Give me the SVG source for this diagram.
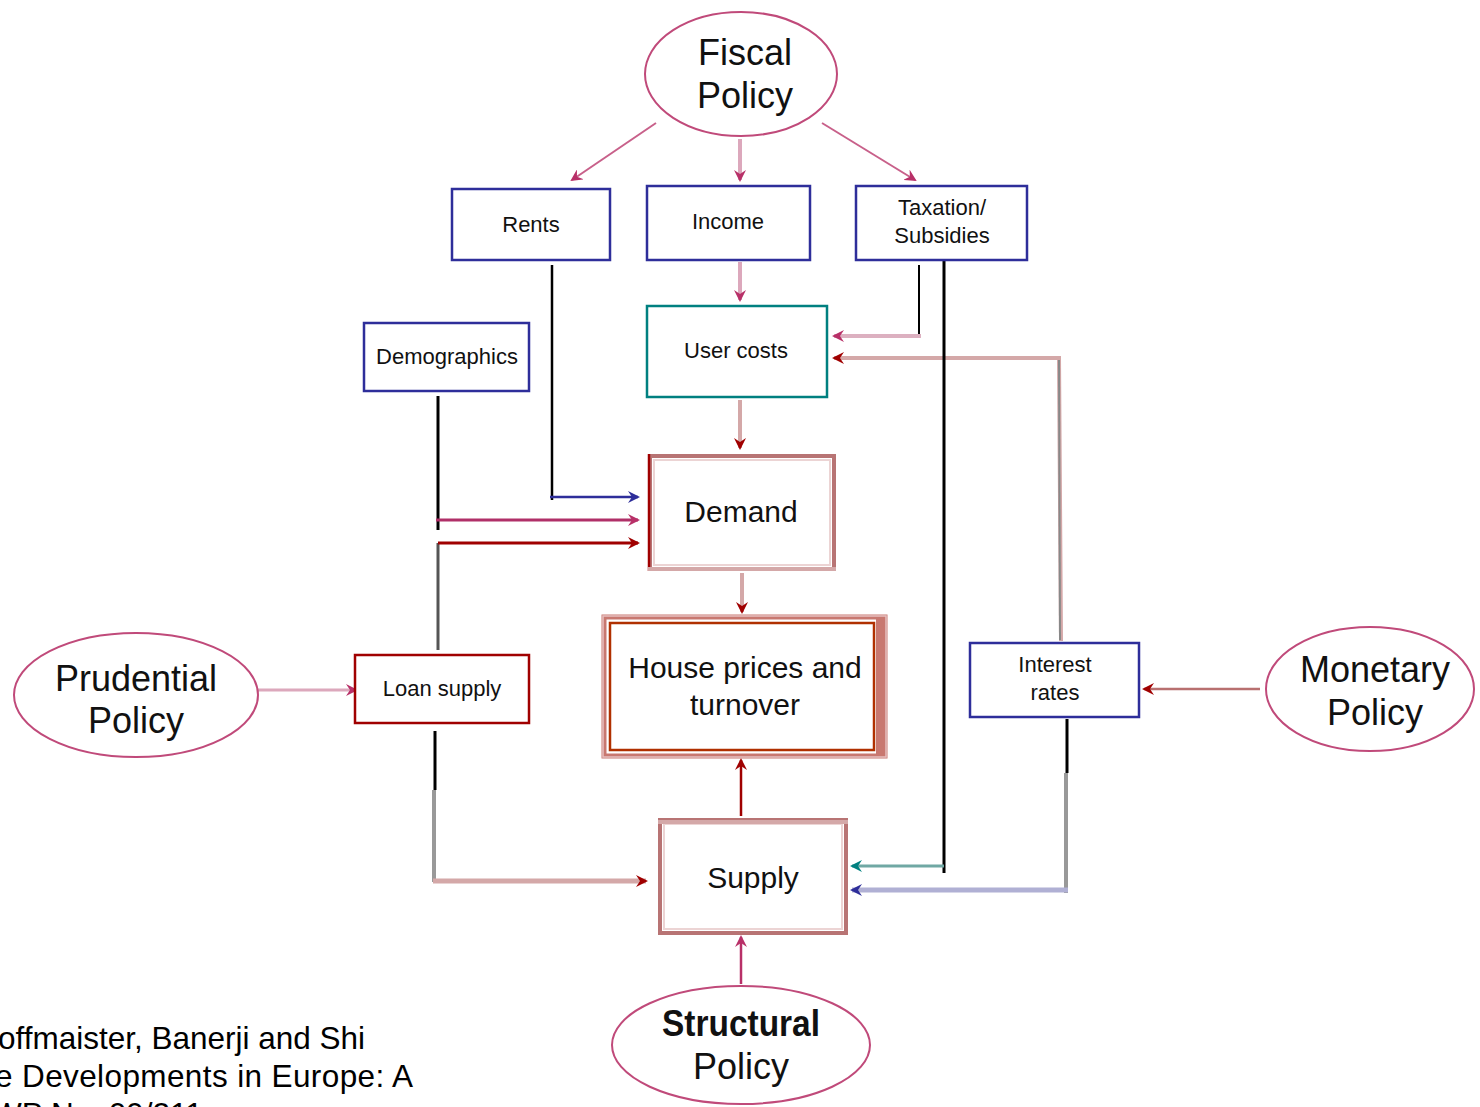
<svg xmlns="http://www.w3.org/2000/svg" width="1480" height="1107" viewBox="0 0 1480 1107">
<style>
  .ell { fill: #fff; stroke: #c04a7a; stroke-width: 2; }
  .big { font-family: "Liberation Sans", Arial, sans-serif; font-size: 36px; fill: #111; text-anchor: middle; }
  .mid { font-family: "Liberation Sans", Arial, sans-serif; font-size: 30px; fill: #111; text-anchor: middle; }
  .sm { font-family: "Liberation Sans", Arial, sans-serif; font-size: 22px; fill: #111; text-anchor: middle; }
  .cite { font-family: "Liberation Sans", Arial, sans-serif; font-size: 31.5px; fill: #000; }
  .blue { fill: #fff; stroke: #2e2e9a; stroke-width: 2.5; }
  .conn { fill: none; }
</style>
<defs>
  <marker id="aMag" markerWidth="12" markerHeight="12" refX="10" refY="6" orient="auto" markerUnits="userSpaceOnUse">
    <path d="M0,0 L12,6 L0,12 L4,6 z" fill="#b83068"/>
  </marker>
  <marker id="aRed" markerWidth="12" markerHeight="12" refX="10" refY="6" orient="auto" markerUnits="userSpaceOnUse">
    <path d="M0,0 L12,6 L0,12 L4,6 z" fill="#a00000"/>
  </marker>
  <marker id="aBlue" markerWidth="12" markerHeight="12" refX="10" refY="6" orient="auto" markerUnits="userSpaceOnUse">
    <path d="M0,0 L12,6 L0,12 L4,6 z" fill="#2e2e9a"/>
  </marker>
  <marker id="aTeal" markerWidth="12" markerHeight="12" refX="10" refY="6" orient="auto" markerUnits="userSpaceOnUse">
    <path d="M0,0 L12,6 L0,12 L4,6 z" fill="#008080"/>
  </marker>
</defs>

<g id="connectors" class="conn">
  <line x1="656" y1="123" x2="572" y2="180" stroke="#c8608a" stroke-width="2" marker-end="url(#aMag)"/>
  <line x1="740" y1="139" x2="740" y2="180" stroke="#dca8bc" stroke-width="4" marker-end="url(#aMag)"/>
  <line x1="822" y1="123" x2="915" y2="180" stroke="#c8608a" stroke-width="2" marker-end="url(#aMag)"/>
  <line x1="740" y1="262" x2="740" y2="300" stroke="#dca8bc" stroke-width="4" marker-end="url(#aMag)"/>
  <line x1="919" y1="265" x2="919" y2="337" stroke="#000" stroke-width="2"/>
  <polyline points="921,336 834,336" stroke="#dcb0c0" stroke-width="4" marker-end="url(#aMag)"/>
  <polyline points="1061,641 1059,358 834,358" stroke="#d4a8a8" stroke-width="4" marker-end="url(#aRed)"/>
  <line x1="1059" y1="360" x2="1060" y2="640" stroke="#888" stroke-width="2"/>
  <line x1="944" y1="260" x2="944" y2="873" stroke="#000" stroke-width="3"/>
  <polyline points="944,866 852,866" stroke="#70a8a4" stroke-width="3" marker-end="url(#aTeal)"/>
  <line x1="552" y1="265" x2="552" y2="500" stroke="#000" stroke-width="2.5"/>
  <polyline points="550,497 638,497" stroke="#2e2e9a" stroke-width="2.5" marker-end="url(#aBlue)"/>
  <line x1="438" y1="396" x2="438" y2="530" stroke="#000" stroke-width="3"/>
  <polyline points="436,520 638,520" stroke="#b03068" stroke-width="3" marker-end="url(#aMag)"/>
  <line x1="438" y1="543" x2="438" y2="650" stroke="#555" stroke-width="3"/>
  <polyline points="438,543 638,543" stroke="#a00000" stroke-width="3" marker-end="url(#aRed)"/>
  <line x1="740" y1="400" x2="740" y2="448" stroke="#d4a8a8" stroke-width="4" marker-end="url(#aRed)"/>
  <line x1="742" y1="573" x2="742" y2="612" stroke="#d4a8a8" stroke-width="4" marker-end="url(#aRed)"/>
  <line x1="741" y1="816" x2="741" y2="760" stroke="#a00000" stroke-width="2.5" marker-end="url(#aRed)"/>
  <line x1="741" y1="984" x2="741" y2="937" stroke="#b83068" stroke-width="2.5" marker-end="url(#aMag)"/>
  <line x1="258" y1="690" x2="356" y2="690" stroke="#dca8bc" stroke-width="3" marker-end="url(#aMag)"/>
  <line x1="435" y1="731" x2="435" y2="790" stroke="#000" stroke-width="3"/>
  <line x1="434" y1="790" x2="434" y2="882" stroke="#999" stroke-width="4"/>
  <polyline points="433,881 646,881" stroke="#d4a8a8" stroke-width="5" marker-end="url(#aRed)"/>
  <line x1="1260" y1="689" x2="1144" y2="689" stroke="#b87070" stroke-width="2.5" marker-end="url(#aRed)"/>
  <line x1="1067" y1="719" x2="1067" y2="773" stroke="#000" stroke-width="3"/>
  <line x1="1066" y1="773" x2="1066" y2="893" stroke="#999" stroke-width="4"/>
  <polyline points="1068,890 852,890" stroke="#b0b0d4" stroke-width="5" marker-end="url(#aBlue)"/>
</g>

<g id="fiscal-policy">
  <ellipse class="ell" cx="741" cy="74" rx="96" ry="62"/>
  <text class="big" x="745" y="65">Fiscal</text>
  <text class="big" x="745" y="108">Policy</text>
</g>
<g id="rents">
  <rect class="blue" x="452" y="189" width="158" height="71"/>
  <text class="sm" x="531" y="232">Rents</text>
</g>
<g id="income">
  <rect class="blue" x="647" y="186" width="163" height="74"/>
  <text class="sm" x="728" y="229">Income</text>
</g>
<g id="taxation">
  <rect class="blue" x="856" y="186" width="171" height="74"/>
  <text class="sm" x="942" y="215">Taxation/</text>
  <text class="sm" x="942" y="243">Subsidies</text>
</g>
<g id="user-costs">
  <rect x="647" y="306" width="180" height="91" fill="#fff" stroke="#008080" stroke-width="2.5"/>
  <text class="sm" x="736" y="358">User costs</text>
</g>
<g id="demographics">
  <rect class="blue" x="364" y="323" width="165" height="68"/>
  <text class="sm" x="447" y="364">Demographics</text>
</g>
<g id="demand">
  <rect x="650" y="456" width="184" height="113" fill="#fff" stroke="#b87474" stroke-width="4"/>
  <rect x="654" y="460" width="176" height="105" fill="none" stroke="#ecd4d4" stroke-width="2"/>
  <line x1="649" y1="454" x2="649" y2="571" stroke="#a00000" stroke-width="2.5"/>
  <line x1="648" y1="569" x2="836" y2="569" stroke="#d4a8a8" stroke-width="4"/>
  <text class="mid" x="741" y="522">Demand</text>
</g>
<g id="house-prices">
  <rect x="604" y="617" width="281" height="139" fill="#fff" stroke="#c87870" stroke-width="5"/>
  <rect x="603" y="616" width="283" height="141" fill="none" stroke="#e6c0c0" stroke-width="1.5"/>
  <rect x="610" y="623" width="264" height="127" fill="none" stroke="#b03000" stroke-width="2.5"/>
  <line x1="880" y1="618" x2="880" y2="756" stroke="#c87870" stroke-width="8"/>
  <text class="mid" x="745" y="678">House prices and</text>
  <text class="mid" x="745" y="715">turnover</text>
</g>
<g id="supply">
  <rect x="660" y="820" width="186" height="113" fill="#fff" stroke="#b87474" stroke-width="4"/>
  <rect x="664" y="824" width="178" height="105" fill="none" stroke="#ecd4d4" stroke-width="2"/>
  <line x1="658" y1="822" x2="848" y2="822" stroke="#d4a8a8" stroke-width="4"/>
  <text class="mid" x="753" y="888">Supply</text>
</g>
<g id="structural-policy">
  <ellipse class="ell" cx="741" cy="1045" rx="129" ry="59"/>
  <text class="big" x="741" y="1036" style="font-weight:bold" textLength="158" lengthAdjust="spacingAndGlyphs">Structural</text>
  <text class="big" x="741" y="1079">Policy</text>
</g>
<g id="prudential-policy">
  <ellipse class="ell" cx="136" cy="695" rx="122" ry="62"/>
  <text class="big" x="136" y="691">Prudential</text>
  <text class="big" x="136" y="733">Policy</text>
</g>
<g id="loan-supply">
  <rect x="355" y="655" width="174" height="68" fill="#fff" stroke="#a00000" stroke-width="2.5"/>
  <text class="sm" x="442" y="696">Loan supply</text>
</g>
<g id="interest-rates">
  <rect class="blue" x="970" y="643" width="169" height="74"/>
  <text class="sm" x="1055" y="672">Interest</text>
  <text class="sm" x="1055" y="700">rates</text>
</g>
<g id="monetary-policy">
  <ellipse class="ell" cx="1370" cy="689" rx="104" ry="62"/>
  <text class="big" x="1375" y="682">Monetary</text>
  <text class="big" x="1375" y="725">Policy</text>
</g>

<g id="citation">
  <text class="cite" x="-2" y="1049" textLength="367">offmaister, Banerji and Shi</text>
  <text class="cite" x="-5" y="1087" textLength="418">e Developments in Europe: A</text>
  <text class="cite" x="-8" y="1125">WP No. 09/211</text>
</g>
</svg>
